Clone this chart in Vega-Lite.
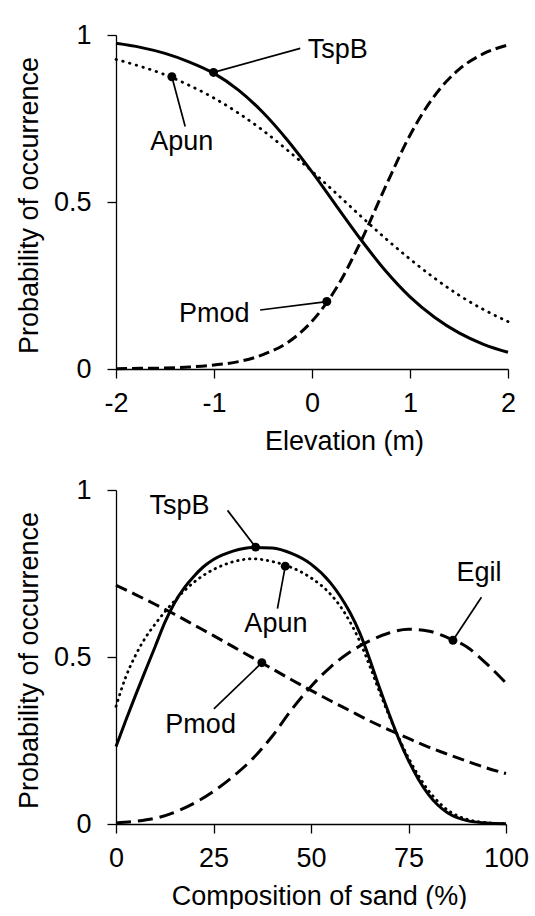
{
  "$schema": "https://vega.github.io/schema/vega-lite/v6.json",
  "background": "white",
  "padding": {"left": 15, "top": 21, "right": 0, "bottom": 0},
  "spacing": 22,
  "config": {
    "font": "Liberation Sans",
    "view": {"stroke": null},
    "axis": {
      "domainColor": "black", "domainWidth": 1.3,
      "tickColor": "black", "tickWidth": 1.3, "tickSize": 9,
      "labelColor": "black", "labelFontSize": 27, "labelFont": "Liberation Sans",
      "titleColor": "black", "titleFontSize": 27, "titleFont": "Liberation Sans", "titleFontWeight": "normal",
      "grid": false, "labelFlush": false, "labelOverlap": false
    }
  },
  "datasets": {
    "top": [
      {"s":"TspB","x":-2,"p":0.975},{"s":"TspB","x":-1.75,"p":0.963},{"s":"TspB","x":-1.5,"p":0.945},{"s":"TspB","x":-1.25,"p":0.919},{"s":"TspB","x":-1,"p":0.885},{"s":"TspB","x":-0.75,"p":0.835},{"s":"TspB","x":-0.5,"p":0.768},{"s":"TspB","x":-0.25,"p":0.685},{"s":"TspB","x":0,"p":0.590},{"s":"TspB","x":0.25,"p":0.488},{"s":"TspB","x":0.5,"p":0.387},{"s":"TspB","x":0.75,"p":0.294},{"s":"TspB","x":1,"p":0.216},{"s":"TspB","x":1.25,"p":0.155},{"s":"TspB","x":1.5,"p":0.108},{"s":"TspB","x":1.75,"p":0.074},{"s":"TspB","x":2,"p":0.050},
      {"s":"Apun","x":-2,"p":0.927},{"s":"Apun","x":-1.75,"p":0.906},{"s":"Apun","x":-1.5,"p":0.881},{"s":"Apun","x":-1.25,"p":0.849},{"s":"Apun","x":-1,"p":0.811},{"s":"Apun","x":-0.75,"p":0.766},{"s":"Apun","x":-0.5,"p":0.714},{"s":"Apun","x":-0.25,"p":0.655},{"s":"Apun","x":0,"p":0.592},{"s":"Apun","x":0.25,"p":0.525},{"s":"Apun","x":0.5,"p":0.457},{"s":"Apun","x":0.75,"p":0.391},{"s":"Apun","x":1,"p":0.329},{"s":"Apun","x":1.25,"p":0.272},{"s":"Apun","x":1.5,"p":0.221},{"s":"Apun","x":1.75,"p":0.178},{"s":"Apun","x":2,"p":0.142},
      {"s":"Pmod","x":-2,"p":0.001},{"s":"Pmod","x":-1.75,"p":0.002},{"s":"Pmod","x":-1.5,"p":0.003},{"s":"Pmod","x":-1.25,"p":0.006},{"s":"Pmod","x":-1,"p":0.012},{"s":"Pmod","x":-0.75,"p":0.022},{"s":"Pmod","x":-0.5,"p":0.043},{"s":"Pmod","x":-0.25,"p":0.079},{"s":"Pmod","x":0,"p":0.143},{"s":"Pmod","x":0.25,"p":0.243},{"s":"Pmod","x":0.5,"p":0.383},{"s":"Pmod","x":0.75,"p":0.546},{"s":"Pmod","x":1,"p":0.700},{"s":"Pmod","x":1.25,"p":0.818},{"s":"Pmod","x":1.5,"p":0.897},{"s":"Pmod","x":1.75,"p":0.944},{"s":"Pmod","x":2,"p":0.970}
    ],
    "bottom": [
      {"s":"TspB","x":0,"p":0.232},{"s":"TspB","x":2.5,"p":0.31},{"s":"TspB","x":5,"p":0.385},{"s":"TspB","x":7.5,"p":0.458},{"s":"TspB","x":10,"p":0.53},{"s":"TspB","x":12.5,"p":0.603},{"s":"TspB","x":15,"p":0.662},{"s":"TspB","x":17.5,"p":0.707},{"s":"TspB","x":20,"p":0.742},{"s":"TspB","x":22.5,"p":0.771},{"s":"TspB","x":25,"p":0.792},{"s":"TspB","x":30,"p":0.817},{"s":"TspB","x":35,"p":0.828},{"s":"TspB","x":40,"p":0.826},{"s":"TspB","x":45,"p":0.81},{"s":"TspB","x":50,"p":0.778},{"s":"TspB","x":55,"p":0.722},{"s":"TspB","x":57.5,"p":0.682},{"s":"TspB","x":60,"p":0.633},{"s":"TspB","x":62.5,"p":0.572},{"s":"TspB","x":65,"p":0.495},{"s":"TspB","x":67.5,"p":0.41},{"s":"TspB","x":70,"p":0.33},{"s":"TspB","x":72.5,"p":0.255},{"s":"TspB","x":75,"p":0.19},{"s":"TspB","x":77.5,"p":0.135},{"s":"TspB","x":80,"p":0.09},{"s":"TspB","x":82.5,"p":0.057},{"s":"TspB","x":85,"p":0.034},{"s":"TspB","x":87.5,"p":0.019},{"s":"TspB","x":90,"p":0.01},{"s":"TspB","x":95,"p":0.003},{"s":"TspB","x":100,"p":0.001},
      {"s":"Apun","x":0,"p":0.352},{"s":"Apun","x":2.5,"p":0.44},{"s":"Apun","x":5,"p":0.505},{"s":"Apun","x":7.5,"p":0.557},{"s":"Apun","x":10,"p":0.598},{"s":"Apun","x":12.5,"p":0.635},{"s":"Apun","x":15,"p":0.668},{"s":"Apun","x":17.5,"p":0.698},{"s":"Apun","x":20,"p":0.724},{"s":"Apun","x":22.5,"p":0.745},{"s":"Apun","x":25,"p":0.762},{"s":"Apun","x":30,"p":0.785},{"s":"Apun","x":35,"p":0.794},{"s":"Apun","x":40,"p":0.786},{"s":"Apun","x":45,"p":0.768},{"s":"Apun","x":50,"p":0.737},{"s":"Apun","x":55,"p":0.688},{"s":"Apun","x":57.5,"p":0.652},{"s":"Apun","x":60,"p":0.605},{"s":"Apun","x":62.5,"p":0.547},{"s":"Apun","x":65,"p":0.475},{"s":"Apun","x":67.5,"p":0.398},{"s":"Apun","x":70,"p":0.325},{"s":"Apun","x":72.5,"p":0.258},{"s":"Apun","x":75,"p":0.198},{"s":"Apun","x":77.5,"p":0.146},{"s":"Apun","x":80,"p":0.102},{"s":"Apun","x":82.5,"p":0.068},{"s":"Apun","x":85,"p":0.042},{"s":"Apun","x":87.5,"p":0.025},{"s":"Apun","x":90,"p":0.014},{"s":"Apun","x":95,"p":0.004},{"s":"Apun","x":100,"p":0.001},
      {"s":"Pmod","x":0,"p":0.715},{"s":"Pmod","x":5,"p":0.687},{"s":"Pmod","x":10,"p":0.658},{"s":"Pmod","x":15,"p":0.628},{"s":"Pmod","x":20,"p":0.596},{"s":"Pmod","x":25,"p":0.564},{"s":"Pmod","x":30,"p":0.531},{"s":"Pmod","x":35,"p":0.498},{"s":"Pmod","x":40,"p":0.465},{"s":"Pmod","x":45,"p":0.432},{"s":"Pmod","x":50,"p":0.400},{"s":"Pmod","x":55,"p":0.369},{"s":"Pmod","x":60,"p":0.339},{"s":"Pmod","x":65,"p":0.309},{"s":"Pmod","x":70,"p":0.282},{"s":"Pmod","x":75,"p":0.256},{"s":"Pmod","x":80,"p":0.231},{"s":"Pmod","x":85,"p":0.209},{"s":"Pmod","x":90,"p":0.188},{"s":"Pmod","x":95,"p":0.168},{"s":"Pmod","x":100,"p":0.151},
      {"s":"Egil","x":0,"p":0.003},{"s":"Egil","x":5,"p":0.008},{"s":"Egil","x":10,"p":0.017},{"s":"Egil","x":15,"p":0.035},{"s":"Egil","x":20,"p":0.062},{"s":"Egil","x":25,"p":0.098},{"s":"Egil","x":30,"p":0.142},{"s":"Egil","x":35,"p":0.195},{"s":"Egil","x":40,"p":0.262},{"s":"Egil","x":45,"p":0.342},{"s":"Egil","x":50,"p":0.412},{"s":"Egil","x":55,"p":0.47},{"s":"Egil","x":60,"p":0.515},{"s":"Egil","x":65,"p":0.548},{"s":"Egil","x":70,"p":0.572},{"s":"Egil","x":75,"p":0.583},{"s":"Egil","x":80,"p":0.578},{"s":"Egil","x":85,"p":0.558},{"s":"Egil","x":90,"p":0.53},{"s":"Egil","x":95,"p":0.48},{"s":"Egil","x":100,"p":0.422}
    ],
    "topAnn": [
      {"label":"TspB","mx":-1.005,"mp":0.888,"lx":-0.12,"lp":0.960,"tx":0.262,"tp":0.930},
      {"label":"Apun","mx":-1.43,"mp":0.875,"lx":-1.294,"lp":0.726,"tx":-1.328,"tp":0.656},
      {"label":"Pmod","mx":0.151,"mp":0.202,"lx":-0.529,"lp":0.1766,"tx":-0.997,"tp":0.1417}
    ],
    "bottomAnn": [
      {"label":"TspB","mx":35.8,"mp":0.829,"lx":28.6,"lp":0.939,"tx":16.3,"tp":0.929},
      {"label":"Apun","mx":43.4,"mp":0.772,"lx":41.4,"lp":0.645,"tx":41.0,"tp":0.574},
      {"label":"Pmod","mx":37.4,"mp":0.483,"lx":25.1,"lp":0.345,"tx":21.7,"tp":0.273},
      {"label":"Egil","mx":86.4,"mp":0.55,"lx":93.7,"lp":0.679,"tx":93.1,"tp":0.729}
    ]
  },
  "vconcat": [
    {
      "width": 392,
      "height": 334,
      "layer": [
        {
          "data": {"name": "top"},
          "transform": [{"filter": "datum.s === 'TspB'"}],
          "mark": {"type": "line", "color": "black", "strokeWidth": 3, "interpolate": "monotone"},
          "encoding": {
            "x": {"field": "x", "type": "quantitative", "title": "Elevation (m)",
                  "scale": {"domain": [-2, 2], "nice": false, "zero": false},
                  "axis": {"values": [-2, -1, 0, 1, 2], "labelExpr": "datum.value < 0 ? '-' + abs(datum.value) : '' + datum.value", "labelPadding": 12, "titlePadding": 12, "titleX": 228}},
            "y": {"field": "p", "type": "quantitative", "title": "Probability of occurrence",
                  "scale": {"domain": [0, 1], "nice": false},
                  "axis": {"values": [0, 0.5, 1], "format": "~g", "labelPadding": 16, "titlePadding": 10, "titleY": 170}}
          }
        },
        {
          "data": {"name": "top"},
          "transform": [{"filter": "datum.s === 'Apun'"}],
          "mark": {"type": "line", "color": "black", "strokeWidth": 2.8, "strokeCap": "round", "strokeDash": [0.5, 6.5], "interpolate": "monotone"},
          "encoding": {
            "x": {"field": "x", "type": "quantitative", "title": "Elevation (m)"},
            "y": {"field": "p", "type": "quantitative", "title": "Probability of occurrence"}
          }
        },
        {
          "data": {"name": "top"},
          "transform": [{"filter": "datum.s === 'Pmod'"}],
          "mark": {"type": "line", "color": "black", "strokeWidth": 3, "strokeDash": [11, 5], "interpolate": "monotone"},
          "encoding": {
            "x": {"field": "x", "type": "quantitative", "title": "Elevation (m)"},
            "y": {"field": "p", "type": "quantitative", "title": "Probability of occurrence"}
          }
        },
        {
          "data": {"name": "topAnn"},
          "mark": {"type": "rule", "color": "black", "strokeWidth": 1.7},
          "encoding": {
            "x": {"field": "mx", "type": "quantitative", "title": "Elevation (m)"},
            "y": {"field": "mp", "type": "quantitative", "title": "Probability of occurrence"},
            "x2": {"field": "lx"},
            "y2": {"field": "lp"}
          }
        },
        {
          "data": {"name": "topAnn"},
          "mark": {"type": "circle", "color": "black", "opacity": 1, "size": 80},
          "encoding": {
            "x": {"field": "mx", "type": "quantitative", "title": "Elevation (m)"},
            "y": {"field": "mp", "type": "quantitative", "title": "Probability of occurrence"}
          }
        },
        {
          "data": {"name": "topAnn"},
          "mark": {"type": "text", "color": "black", "fontSize": 27, "align": "center", "baseline": "alphabetic"},
          "encoding": {
            "x": {"field": "tx", "type": "quantitative", "title": "Elevation (m)"},
            "y": {"field": "tp", "type": "quantitative", "title": "Probability of occurrence"},
            "text": {"field": "label"}
          }
        }
      ]
    },
    {
      "width": 390,
      "height": 334,
      "layer": [
        {
          "data": {"name": "bottom"},
          "transform": [{"filter": "datum.s === 'TspB'"}],
          "mark": {"type": "line", "color": "black", "strokeWidth": 3, "interpolate": "monotone"},
          "encoding": {
            "x": {"field": "x", "type": "quantitative", "title": "Composition of sand (%)",
                  "scale": {"domain": [0, 100], "nice": false},
                  "axis": {"values": [0, 25, 50, 75, 100], "labelPadding": 12, "titlePadding": 12, "titleX": 203}},
            "y": {"field": "p", "type": "quantitative", "title": "Probability of occurrence",
                  "scale": {"domain": [0, 1], "nice": false},
                  "axis": {"values": [0, 0.5, 1], "format": "~g", "labelPadding": 16, "titlePadding": 10, "titleY": 170}}
          }
        },
        {
          "data": {"name": "bottom"},
          "transform": [{"filter": "datum.s === 'Apun'"}],
          "mark": {"type": "line", "color": "black", "strokeWidth": 2.8, "strokeCap": "round", "strokeDash": [0.5, 5.5], "interpolate": "monotone"},
          "encoding": {
            "x": {"field": "x", "type": "quantitative", "title": "Composition of sand (%)"},
            "y": {"field": "p", "type": "quantitative", "title": "Probability of occurrence"}
          }
        },
        {
          "data": {"name": "bottom"},
          "transform": [{"filter": "datum.s === 'Pmod'"}],
          "mark": {"type": "line", "color": "black", "strokeWidth": 3, "strokeDash": [12, 6], "interpolate": "monotone"},
          "encoding": {
            "x": {"field": "x", "type": "quantitative", "title": "Composition of sand (%)"},
            "y": {"field": "p", "type": "quantitative", "title": "Probability of occurrence"}
          }
        },
        {
          "data": {"name": "bottom"},
          "transform": [{"filter": "datum.s === 'Egil'"}],
          "mark": {"type": "line", "color": "black", "strokeWidth": 3, "strokeDash": [15, 7], "interpolate": "monotone"},
          "encoding": {
            "x": {"field": "x", "type": "quantitative", "title": "Composition of sand (%)"},
            "y": {"field": "p", "type": "quantitative", "title": "Probability of occurrence"}
          }
        },
        {
          "data": {"name": "bottomAnn"},
          "mark": {"type": "rule", "color": "black", "strokeWidth": 1.7},
          "encoding": {
            "x": {"field": "mx", "type": "quantitative", "title": "Composition of sand (%)"},
            "y": {"field": "mp", "type": "quantitative", "title": "Probability of occurrence"},
            "x2": {"field": "lx"},
            "y2": {"field": "lp"}
          }
        },
        {
          "data": {"name": "bottomAnn"},
          "mark": {"type": "circle", "color": "black", "opacity": 1, "size": 80},
          "encoding": {
            "x": {"field": "mx", "type": "quantitative", "title": "Composition of sand (%)"},
            "y": {"field": "mp", "type": "quantitative", "title": "Probability of occurrence"}
          }
        },
        {
          "data": {"name": "bottomAnn"},
          "mark": {"type": "text", "color": "black", "fontSize": 27, "align": "center", "baseline": "alphabetic"},
          "encoding": {
            "x": {"field": "tx", "type": "quantitative", "title": "Composition of sand (%)"},
            "y": {"field": "tp", "type": "quantitative", "title": "Probability of occurrence"},
            "text": {"field": "label"}
          }
        }
      ]
    }
  ]
}
